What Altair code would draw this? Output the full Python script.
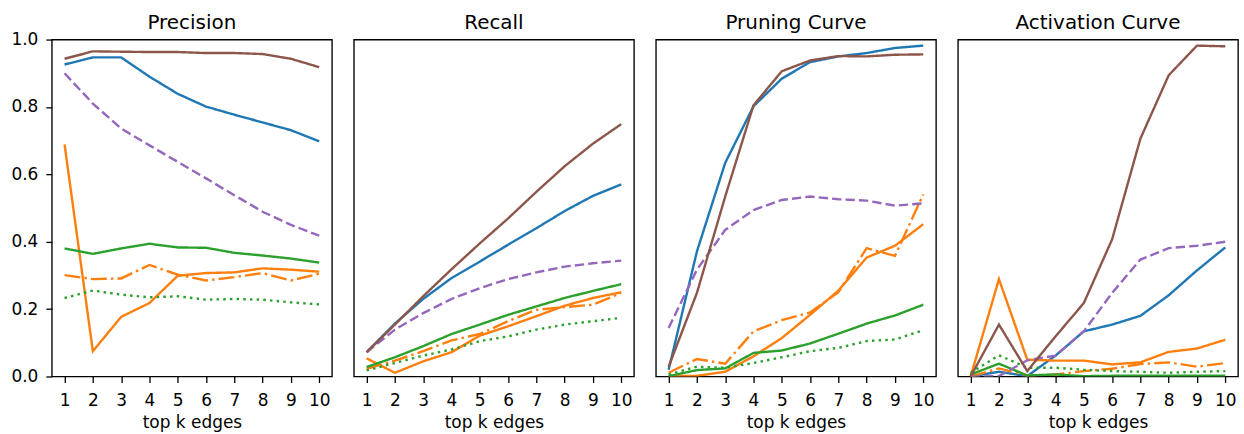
import altair as alt
import pandas as pd

ks = list(range(1, 11))
panels = ["Precision", "Recall", "Pruning Curve", "Activation Curve"]
series = ["blue", "orange", "orange_dashdot", "green", "green_dotted", "purple_dashed", "brown"]
colors = ["#1f77b4", "#ff7f0e", "#ff7f0e", "#2ca02c", "#2ca02c", "#9467bd", "#8c564b"]
dashes = [[1, 0], [1, 0], [16, 4.1, 2.5, 4.1], [1, 0], [2.5, 4.2], [9.4, 4.1], [1, 0]]

precision = {
    "brown": [0.943, 0.965, 0.964, 0.963, 0.963, 0.960, 0.960, 0.957, 0.943, 0.918],
    "blue": [0.926, 0.947, 0.947, 0.890, 0.839, 0.801, 0.777, 0.754, 0.731, 0.698],
    "purple_dashed": [0.900, 0.810, 0.736, 0.686, 0.637, 0.588, 0.538, 0.489, 0.450, 0.418],
    "orange": [0.689, 0.075, 0.177, 0.218, 0.299, 0.307, 0.309, 0.321, 0.317, 0.311],
    "orange_dashdot": [0.301, 0.289, 0.291, 0.331, 0.302, 0.285, 0.295, 0.307, 0.285, 0.305],
    "green": [0.380, 0.364, 0.380, 0.394, 0.383, 0.382, 0.367, 0.359, 0.350, 0.338],
    "green_dotted": [0.233, 0.255, 0.243, 0.235, 0.238, 0.228, 0.230, 0.228, 0.220, 0.214],
}
recall = {
    "brown": [0.072, 0.154, 0.238, 0.318, 0.395, 0.469, 0.548, 0.624, 0.691, 0.749],
    "blue": [0.072, 0.157, 0.230, 0.292, 0.341, 0.391, 0.440, 0.491, 0.536, 0.570],
    "purple_dashed": [0.072, 0.139, 0.188, 0.230, 0.262, 0.289, 0.309, 0.326, 0.336, 0.344],
    "green": [0.028, 0.057, 0.090, 0.126, 0.154, 0.183, 0.208, 0.233, 0.254, 0.274],
    "orange": [0.054, 0.011, 0.045, 0.072, 0.121, 0.149, 0.179, 0.210, 0.233, 0.250],
    "orange_dashdot": [0.023, 0.047, 0.075, 0.107, 0.126, 0.164, 0.198, 0.206, 0.213, 0.248],
    "green_dotted": [0.018, 0.040, 0.062, 0.080, 0.105, 0.119, 0.139, 0.154, 0.164, 0.174],
}
pruning = {
    "blue": [0.020, 0.371, 0.634, 0.802, 0.884, 0.933, 0.950, 0.960, 0.975, 0.982],
    "brown": [0.029, 0.248, 0.534, 0.805, 0.906, 0.938, 0.951, 0.950, 0.955, 0.956],
    "purple_dashed": [0.144, 0.317, 0.435, 0.494, 0.524, 0.534, 0.526, 0.522, 0.507, 0.514],
    "orange_dashdot": [0.011, 0.052, 0.038, 0.134, 0.167, 0.190, 0.250, 0.381, 0.358, 0.540],
    "orange": [0.001, 0.002, 0.014, 0.060, 0.114, 0.183, 0.255, 0.353, 0.388, 0.452],
    "green": [0.001, 0.019, 0.024, 0.070, 0.077, 0.098, 0.127, 0.157, 0.181, 0.213],
    "green_dotted": [0.006, 0.029, 0.026, 0.040, 0.057, 0.075, 0.085, 0.105, 0.110, 0.137],
}
activation = {
    "brown": [0.000, 0.154, 0.016, 0.119, 0.218, 0.407, 0.706, 0.894, 0.982, 0.980],
    "orange": [0.000, 0.289, 0.050, 0.047, 0.047, 0.036, 0.042, 0.073, 0.083, 0.109],
    "purple_dashed": [0.000, 0.001, 0.048, 0.062, 0.134, 0.248, 0.347, 0.381, 0.388, 0.400],
    "blue": [0.000, 0.014, 0.001, 0.062, 0.134, 0.154, 0.180, 0.241, 0.315, 0.383],
    "orange_dashdot": [0.000, 0.024, 0.003, 0.006, 0.016, 0.023, 0.037, 0.042, 0.029, 0.040],
    "green": [0.006, 0.038, 0.003, 0.006, 0.001, 0.002, 0.002, 0.002, 0.002, 0.002],
    "green_dotted": [0.011, 0.063, 0.026, 0.026, 0.020, 0.016, 0.014, 0.011, 0.014, 0.016],
}
panel_data = [precision, recall, pruning, activation]

FONT = "DejaVu Sans"
LABEL_SIZE = 17
TITLE_SIZE = 20


def make_panel(title, data, first):
    rows = []
    for s in series:
        for k, v in zip(ks, data[s]):
            rows.append({"series": s, "k": k, "value": v})
    df = pd.DataFrame(rows)
    if first:
        yaxis = alt.Axis(values=[0, 0.2, 0.4, 0.6, 0.8, 1.0], format=".1f", grid=False,
                         title=None, labelFont=FONT, labelFontSize=LABEL_SIZE, labelColor="#000",
                         tickColor="#000", tickSize=6, tickWidth=1.3, domain=False, labelPadding=8)
        tdy = 9
    else:
        yaxis = None
        tdy = 0
    return alt.Chart(df).mark_line(strokeWidth=2.4, clip=True).encode(
        x=alt.X("k:Q", scale=alt.Scale(domain=[0.55, 10.45], nice=False, zero=False),
                axis=alt.Axis(values=ks, format="d", grid=False, title="top k edges",
                              titleFont=FONT, titleFontSize=LABEL_SIZE, titleFontWeight="normal",
                              titleColor="#000", labelFont=FONT, labelFontSize=LABEL_SIZE,
                              labelColor="#000", tickColor="#000", tickSize=6, tickWidth=1.3,
                              domain=False, labelPadding=10, titlePadding=6,
                              labelFlush=False, labelOverlap=False)),
        y=alt.Y("value:Q", scale=alt.Scale(domain=[0, 1], nice=False), axis=yaxis),
        color=alt.Color("series:N", scale=alt.Scale(domain=series, range=colors), legend=None),
        strokeDash=alt.StrokeDash("series:N", scale=alt.Scale(domain=series, range=dashes), legend=None),
        order=alt.Order("series:N"),
    ).properties(
        width=281, height=338,
        title=alt.TitleParams(title, font=FONT, fontSize=TITLE_SIZE, fontWeight="normal",
                              color="#000", offset=7, dy=tdy),
    )


charts = [make_panel(t, d, i == 0) for i, (t, d) in enumerate(zip(panels, panel_data))]
chart = alt.hconcat(*charts, spacing=20).properties(
    padding={"left": 10, "top": 11, "right": 5, "bottom": 0}
).configure_view(stroke="#000", strokeWidth=1.36)

chart.save("out.html", embed_options={"renderer": "svg", "actions": False})
